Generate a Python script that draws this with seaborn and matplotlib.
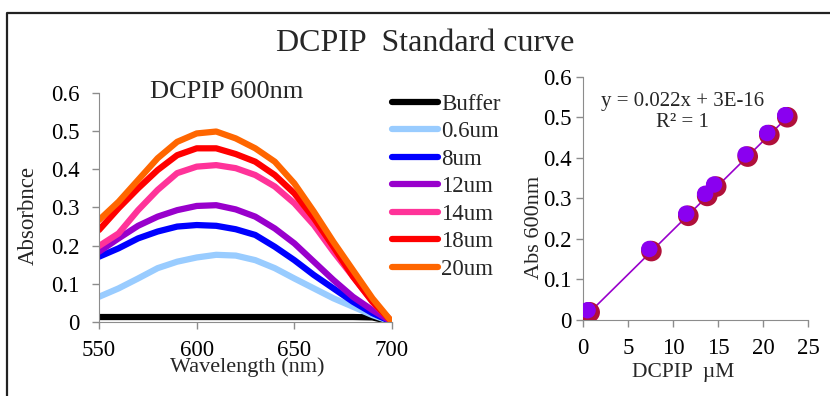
import numpy as np
import pandas as pd
import matplotlib
matplotlib.use("Agg")
import matplotlib.pyplot as plt
import matplotlib.transforms as mtransforms
import seaborn as sns

# absorbance spectra
wavelength = [550, 560, 570, 580, 590, 600, 610, 620, 630, 640, 650, 660, 670, 680, 690, 700]
buffer_abs = [0.013, 0.013, 0.013, 0.013, 0.013, 0.013, 0.013, 0.013, 0.013, 0.013, 0.013, 0.013, 0.013, 0.013, 0.012, 0.0]
abs_0_6 = [0.066, 0.088, 0.114, 0.141, 0.158, 0.169, 0.176, 0.174, 0.162, 0.141, 0.114, 0.088, 0.062, 0.040, 0.018, 0.0]
abs_8 = [0.171, 0.193, 0.219, 0.237, 0.250, 0.254, 0.252, 0.243, 0.228, 0.197, 0.162, 0.123, 0.088, 0.053, 0.023, 0.0]
abs_12 = [0.184, 0.219, 0.252, 0.276, 0.293, 0.304, 0.306, 0.295, 0.276, 0.245, 0.206, 0.158, 0.110, 0.066, 0.031, 0.0]
abs_14 = [0.199, 0.232, 0.293, 0.346, 0.390, 0.407, 0.411, 0.403, 0.385, 0.355, 0.311, 0.254, 0.184, 0.119, 0.053, 0.0]
abs_18 = [0.241, 0.298, 0.350, 0.398, 0.437, 0.455, 0.455, 0.440, 0.420, 0.385, 0.337, 0.272, 0.197, 0.119, 0.053, 0.0]
abs_20 = [0.267, 0.315, 0.372, 0.429, 0.472, 0.494, 0.499, 0.481, 0.455, 0.420, 0.363, 0.289, 0.210, 0.136, 0.062, 0.0]

series_names = ["Buffer", "0.6um", "8um", "12um", "14um", "18um", "20um"]
series_colors = ["#000000", "#99CCFF", "#0000FF", "#9900CC", "#FF3399", "#FF0000", "#FF6600"]

# standard curve points
conc_um = [0.74, 7.6, 11.7, 13.8, 14.8, 18.3, 20.7, 22.7]
abs_600 = [0.019, 0.170, 0.257, 0.306, 0.329, 0.403, 0.456, 0.500]

x_ticks_left = [550, 600, 650, 700]
y_ticks = [0, 0.1, 0.2, 0.3, 0.4, 0.5, 0.6]
y_tick_labels = ["0", "0.1", "0.2", "0.3", "0.4", "0.5", "0.6"]
x_ticks_right = [0, 5, 10, 15, 20, 25]

sns.set_style("ticks")
plt.rcParams["font.family"] = ["Liberation Serif", "DejaVu Serif"]
plt.rcParams["axes.edgecolor"] = "#8c8c8c"
plt.rcParams["xtick.color"] = "#8c8c8c"
plt.rcParams["ytick.color"] = "#8c8c8c"
plt.rcParams["xtick.labelcolor"] = "black"
plt.rcParams["ytick.labelcolor"] = "black"

fig = plt.figure(figsize=(8.3, 3.96), dpi=100)
ax1 = fig.add_axes([0.1193, 0.1869, 0.3530, 0.5783])
ax2 = fig.add_axes([0.7024, 0.1919, 0.2711, 0.6144])

# long-form table for the spectra
all_series = [buffer_abs, abs_0_6, abs_8, abs_12, abs_14, abs_18, abs_20]
frames = []
for name, vals in zip(series_names, all_series):
    frames.append(pd.DataFrame({"wavelength": wavelength, "abs": vals, "sample": name}))
spectra = pd.concat(frames, ignore_index=True)

sns.lineplot(data=spectra, x="wavelength", y="abs", hue="sample", hue_order=series_names,
             palette=series_colors, linewidth=4.5, ax=ax1, solid_capstyle="round",
             solid_joinstyle="round")
ax1.set_xlim(550, 700)
ax1.set_ylim(0, 0.6)
ax1.set_xticks(x_ticks_left)
ax1.set_yticks(y_ticks)
ax1.set_yticklabels(y_tick_labels)
ax1.tick_params(labelsize=16.5, length=5, width=1)
ax1.tick_params(axis="x", pad=8)
ax1.tick_params(axis="y", pad=9)
sns.despine(ax=ax1)
ax1.set_xlabel("Wavelength (nm)", fontsize=16)
ax1.xaxis.set_label_coords(0.505, -0.155)
ax1.set_ylabel("Absorbnce", fontsize=16.5)
ax1.yaxis.set_label_coords(-0.205, 0.467)
ax1.text(0.437, 1.004, "DCPIP 600nm", transform=ax1.transAxes, ha="center", va="center", fontsize=19)
ax1.legend(loc="upper left", bbox_to_anchor=(0.461, 0.786), bbox_transform=fig.transFigure,
           frameon=False, fontsize=16.5, handlelength=2.0, handletextpad=0.15,
           labelspacing=0.28, borderaxespad=0)

# standard curve with trendline
ax2.plot([conc_um[0], conc_um[-1]], [abs_600[0], abs_600[-1]], color="#9900CC", linewidth=1.2, zorder=2)
sns.scatterplot(x=conc_um, y=abs_600, ax=ax2, s=220, color="#B0103A", edgecolor="none", zorder=3)
shift = mtransforms.offset_copy(ax2.transData, fig=fig, x=-1.5, y=1.5, units="points")
ax2.scatter(conc_um, abs_600, s=140, color="#8A00F0", edgecolor="none", zorder=4, transform=shift)
ax2.set_xlim(0, 25)
ax2.set_ylim(0, 0.6)
ax2.set_xticks(x_ticks_right)
ax2.set_yticks(y_ticks)
ax2.set_yticklabels(y_tick_labels)
ax2.tick_params(labelsize=16.5, length=5, width=1)
ax2.tick_params(axis="x", pad=8)
ax2.tick_params(axis="y", pad=3)
sns.despine(ax=ax2)
ax2.set_xlabel("DCPIP  \u00b5M", fontsize=15.5)
ax2.xaxis.set_label_coords(0.444, -0.175)
ax2.set_ylabel("Abs 600nm", fontsize=16)
ax2.yaxis.set_label_coords(-0.175, 0.379)
ax2.text(11.1, 0.538, "y = 0.022x + 3E-16", ha="center", va="center", fontsize=15)
ax2.text(11.1, 0.486, "R\u00b2 = 1", ha="center", va="center", fontsize=15)

fig.text(0.512, 0.89, "DCPIP  Standard curve", ha="center", va="center", fontsize=23)

# outer chart frame (cut by the image edge on right and bottom)
fig.add_artist(plt.Line2D([0.009, 0.009, 1.0], [0.0, 0.968, 0.968], transform=fig.transFigure,
                          color="#222222", linewidth=1.6))

fig.savefig("out.png", dpi=100)
